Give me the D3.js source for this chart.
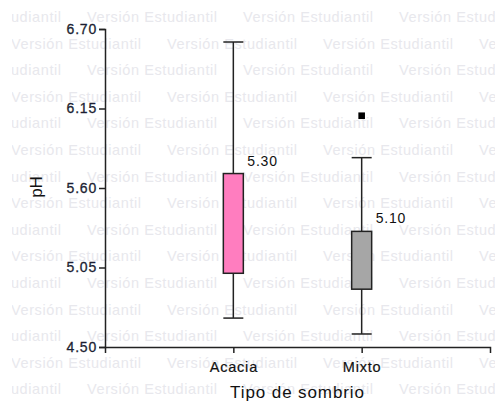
<!DOCTYPE html>
<html>
<head>
<meta charset="utf-8">
<script src="https://cdn.jsdelivr.net/npm/d3@7"></script>
<style>
  html, body { margin: 0; padding: 0; background: #fff; }
  svg { display: block; }
</style>
</head>
<body>
<svg id="chart" width="495" height="402"></svg>
<script>
// Categories and box-plot summaries (pH)
const categories = ["Acacia", "Mixto"];
const whiskerLow  = [4.70, 4.59];
const q1          = [5.01, 4.90];
const q3          = [5.70, 5.30];
const whiskerHigh = [6.61, 5.81];
const means       = [5.30, 5.10];
const outliers    = [[], [6.10]];
const boxColors   = ["#ff7dbf", "#a6a6a6"];
const yTicks      = [4.50, 5.05, 5.60, 6.15, 6.70];

const watermarkText = "Versión Estudiantil";

const svg = d3.select("#chart");
const W = 495, H = 402;
const plotLeft = 105, plotRight = 490, plotTop = 29, plotBottom = 347;

// Watermark layer
const defs = svg.append("defs");
defs.append("clipPath").attr("id", "wm-clip")
  .append("rect").attr("x", 12).attr("y", 0).attr("width", W - 12).attr("height", H);
const wm = svg.append("g").attr("clip-path", "url(#wm-clip)")
  .attr("font-family", "Liberation Sans, Arial, sans-serif")
  .attr("font-size", 14.5)
  .attr("letter-spacing", 0.6)
  .attr("fill", "#e8e8ed");
const rowStep = 26.6, colStep = 156;
for (let r = 0; r < 15; r++) {
  const yc = 17 + r * rowStep;
  const off = r % 2 === 0 ? 87 : 11;
  for (let c = -1; c < 4; c++) {
    wm.append("text")
      .attr("x", off + c * colStep)
      .attr("y", yc + 5)
      .text(watermarkText);
  }
}

const x = d3.scalePoint().domain(categories).range([plotLeft, plotRight]).padding(1);
const y = d3.scaleLinear().domain([4.50, 6.70]).range([plotBottom, plotTop]);

const tickColor = "#1c1f33";
const fontFam = "Liberation Sans, Arial, sans-serif";

// Y axis
const yAxis = svg.append("g")
  .attr("transform", `translate(${plotLeft},0)`)
  .call(d3.axisLeft(y).tickValues(yTicks).tickFormat(d3.format(".2f")).tickSize(6).tickPadding(2));
// X axis
const xAxis = svg.append("g")
  .attr("transform", `translate(0,${plotBottom})`)
  .call(d3.axisBottom(x).tickSize(6).tickPadding(9));

[yAxis, xAxis].forEach(g => {
  g.selectAll("path, line").attr("stroke", "#222").attr("stroke-width", 1.5);
  g.selectAll("text").attr("font-family", fontFam).attr("letter-spacing", 0.8);
});
yAxis.selectAll("text").attr("font-size", 14).attr("fill", tickColor)
  .attr("stroke", tickColor).attr("stroke-width", 0.3);
xAxis.selectAll("text").attr("font-size", 14.5).attr("fill", "#111")
  .attr("stroke", "#111").attr("stroke-width", 0.2);

// Axis titles
svg.append("text")
  .attr("x", (plotLeft + plotRight) / 2).attr("y", 398)
  .attr("text-anchor", "middle")
  .attr("font-family", fontFam).attr("font-size", 17).attr("letter-spacing", 0.9)
  .attr("fill", "#111")
  .text("Tipo de sombrio");
svg.append("text")
  .attr("transform", `translate(42,187) rotate(-90)`)
  .attr("text-anchor", "middle")
  .attr("font-family", fontFam).attr("font-size", 17)
  .attr("fill", "#111")
  .text("pH");

// Boxes
const boxW = 20, capW = 20;
const groups = svg.append("g").selectAll("g").data(categories).join("g");
groups.each(function(cat, i) {
  const g = d3.select(this);
  const cx = x(cat);
  g.append("line")
    .attr("x1", cx).attr("x2", cx)
    .attr("y1", y(whiskerHigh[i])).attr("y2", y(whiskerLow[i]))
    .attr("stroke", "#222").attr("stroke-width", 1.5);
  [whiskerHigh[i], whiskerLow[i]].forEach(v => {
    g.append("line")
      .attr("x1", cx - capW / 2).attr("x2", cx + capW / 2)
      .attr("y1", y(v)).attr("y2", y(v))
      .attr("stroke", "#222").attr("stroke-width", 1.5);
  });
  g.append("rect")
    .attr("x", cx - boxW / 2).attr("width", boxW)
    .attr("y", y(q3[i])).attr("height", y(q1[i]) - y(q3[i]))
    .attr("fill", boxColors[i]).attr("stroke", "#222").attr("stroke-width", 1.5);
  outliers[i].forEach(v => {
    g.append("rect")
      .attr("x", cx - 3.3).attr("y", y(v) - 3.3)
      .attr("width", 6.6).attr("height", 6.6)
      .attr("fill", "#000");
  });
  g.append("text")
    .attr("x", cx + boxW / 2 + 4).attr("y", y(q3[i]) - 8)
    .attr("font-family", fontFam).attr("font-size", 14).attr("letter-spacing", 0.8)
    .attr("fill", "#111")
    .text(d3.format(".2f")(means[i]));
});
</script>
</body>
</html>
